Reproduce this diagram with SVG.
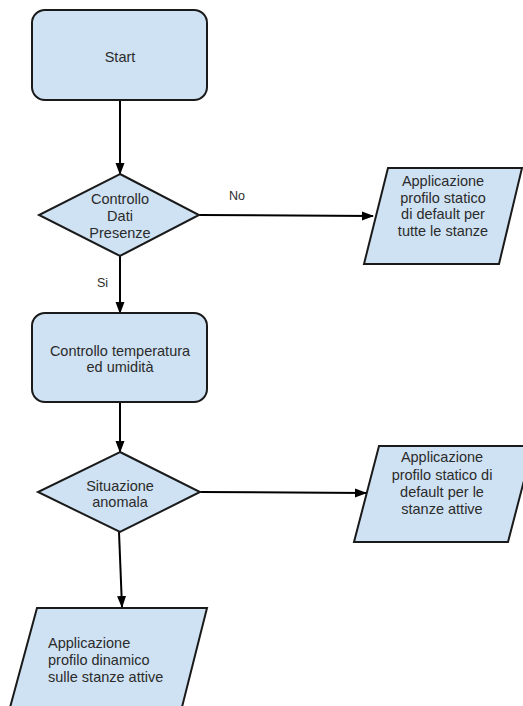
<svg xmlns="http://www.w3.org/2000/svg" width="523" height="706" viewBox="0 0 523 706">
<style>
.shape{fill:#cfe2f3;stroke:#1a1a1a;stroke-width:2}
.t{font-family:"Liberation Sans",Arial,sans-serif;font-size:14.5px;fill:#2b2b2b;text-anchor:middle}
.tl{font-family:"Liberation Sans",Arial,sans-serif;font-size:14.5px;fill:#2b2b2b;text-anchor:start}
.lbl{font-family:"Liberation Sans",Arial,sans-serif;font-size:12.5px;fill:#2b2b2b}
.c{stroke:#000;stroke-width:2;fill:none;marker-end:url(#ah)}
</style>
<defs>
<marker id="ah" markerWidth="12" markerHeight="10" refX="11" refY="4.5" orient="auto" markerUnits="userSpaceOnUse">
<path d="M0,0 L12,4.5 L0,9 Z" fill="#000"/>
</marker>
</defs>
<rect width="523" height="706" fill="#fff"/>
<g id="connectors">
<line class="c" x1="120" y1="100" x2="120" y2="174"/>
<line class="c" x1="199" y1="215" x2="373" y2="216"/>
<line class="c" x1="120" y1="256" x2="120" y2="313"/>
<line class="c" x1="120" y1="402" x2="120" y2="452"/>
<line class="c" x1="200" y1="492" x2="366" y2="493"/>
<line class="c" x1="119" y1="532" x2="122" y2="607"/>
<text class="lbl" x="229" y="200">No</text>
<text class="lbl" x="97" y="287">Si</text>
</g>
<g id="start">
<rect class="shape" x="32" y="10" width="175" height="90" rx="13"/>
<text class="t" x="120" y="62">Start</text>
</g>
<g id="dec1">
<polygon class="shape" points="120,174 199,215 120,256 39,215"/>
<text class="t" x="120" y="204">Controllo</text>
<text class="t" x="120" y="221">Dati</text>
<text class="t" x="120" y="238">Presenze</text>
</g>
<g id="static1">
<polygon class="shape" points="388,168 522,168 499,264 364,264"/>
<text class="t" x="443" y="186">Applicazione</text>
<text class="t" x="443" y="203">profilo statico</text>
<text class="t" x="443" y="219">di default per</text>
<text class="t" x="443" y="236">tutte le stanze</text>
</g>
<g id="check">
<rect class="shape" x="32" y="313" width="175" height="89" rx="13"/>
<text class="t" x="120" y="356">Controllo temperatura</text>
<text class="t" x="120" y="372">ed umidità</text>
</g>
<g id="dec2">
<polygon class="shape" points="120,452 200,492 120,532 38,492"/>
<text class="t" x="120" y="491">Situazione</text>
<text class="t" x="120" y="507">anomala</text>
</g>
<g id="static2">
<polygon class="shape" points="379,446 533,446 508,542 354,542"/>
<text class="t" x="442" y="462">Applicazione</text>
<text class="t" x="442" y="480">profilo statico di</text>
<text class="t" x="442" y="497">default per le</text>
<text class="t" x="442" y="514">stanze attive</text>
</g>
<g id="dynamic">
<polygon class="shape" points="37,608 207,608 180,715 8,715"/>
<text class="tl" x="48" y="648">Applicazione</text>
<text class="tl" x="48" y="665">profilo dinamico</text>
<text class="tl" x="48" y="682">sulle stanze attive</text>
</g>
</svg>
